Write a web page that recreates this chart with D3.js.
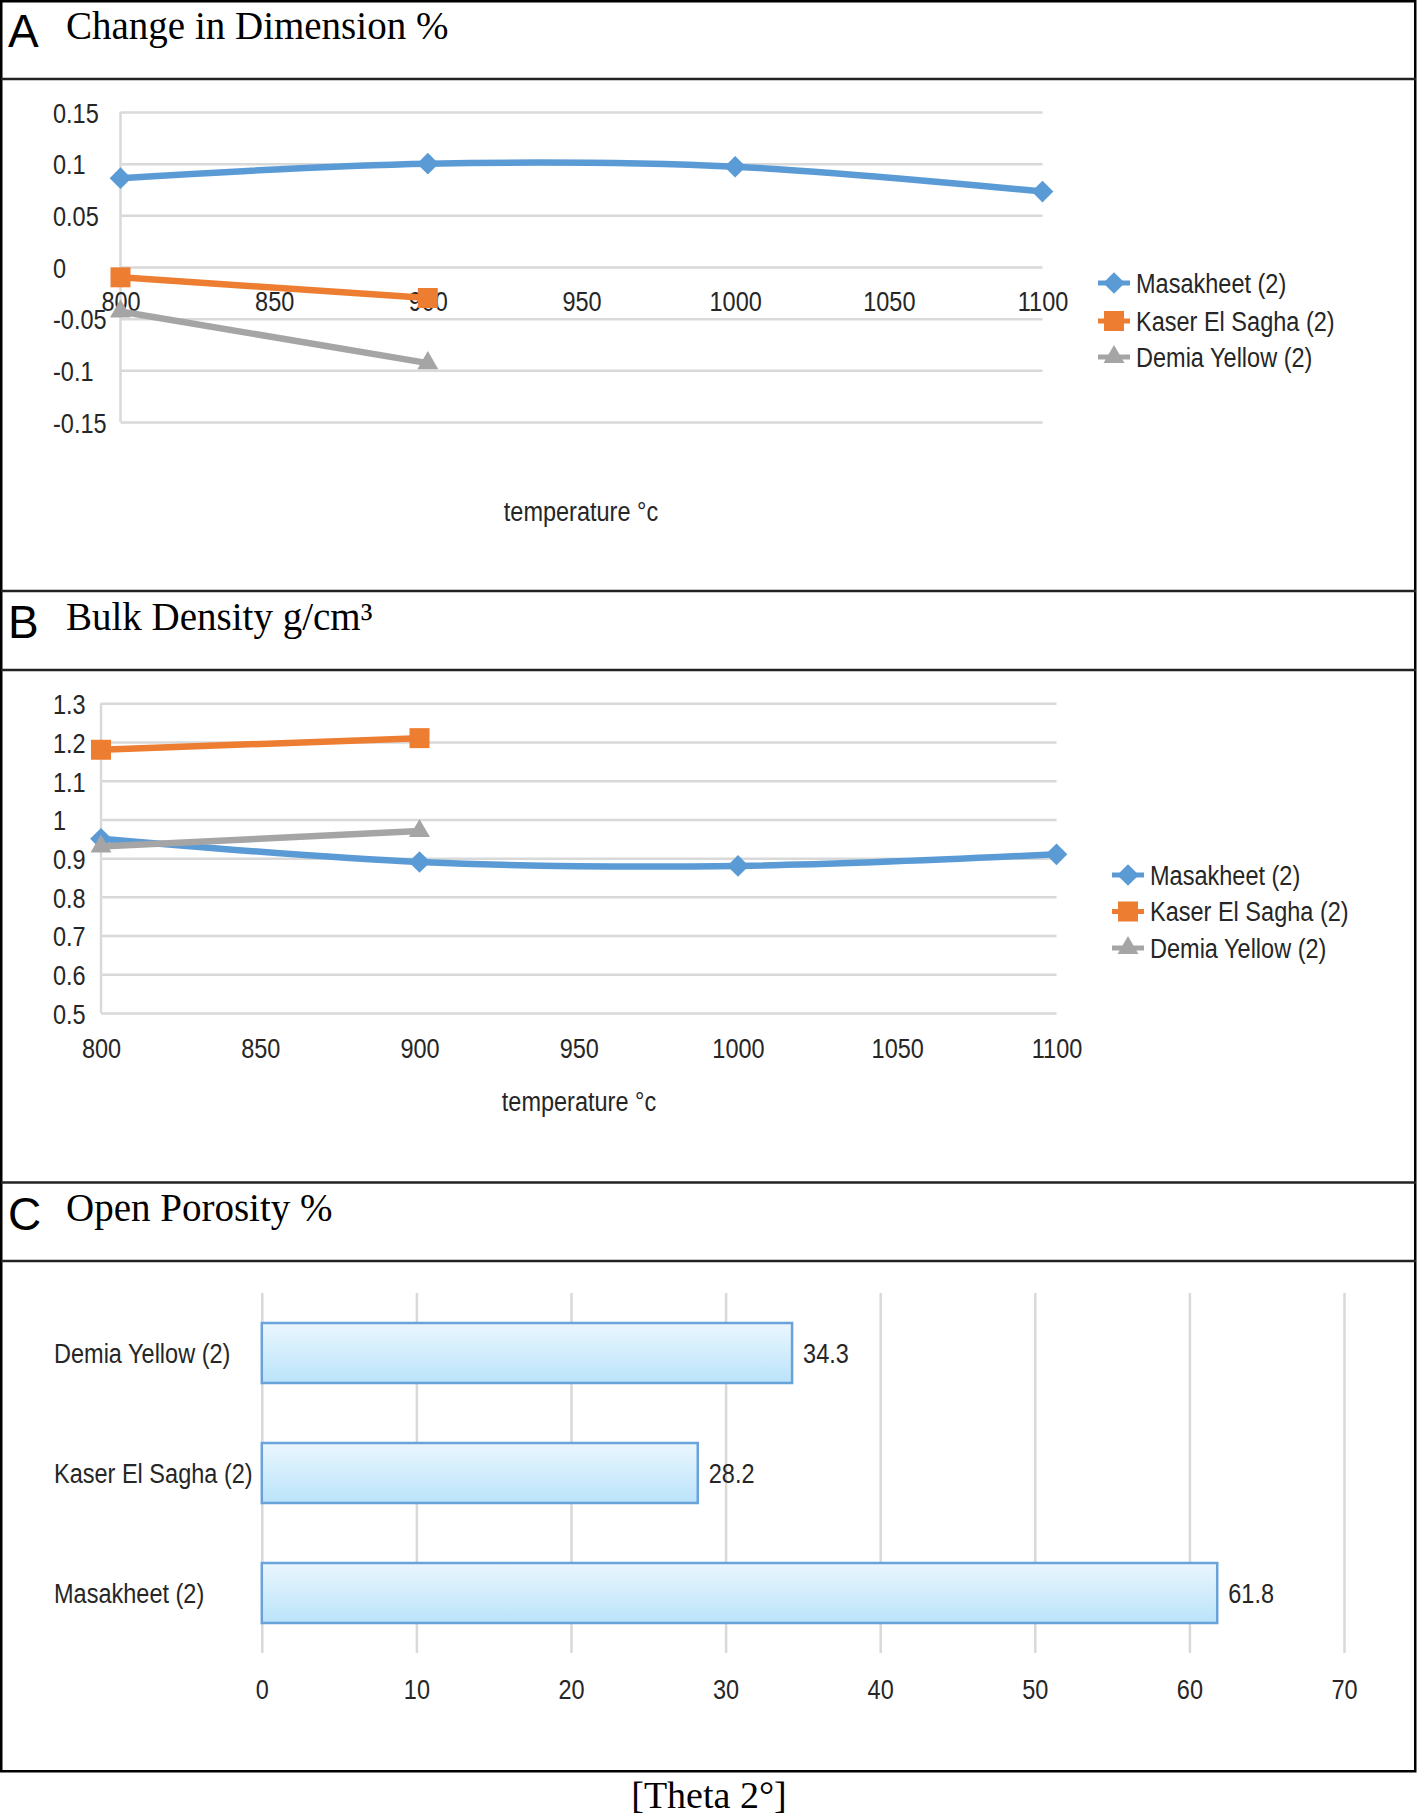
<!DOCTYPE html>
<html lang="en">
<head>
  <meta charset="UTF-8">
  <title>Change in Dimension, Bulk Density, Open Porosity</title>
  <script src="https://d3js.org/d3.v7.min.js"></script>
  <style>
    body { margin: 0; background: #fff; }
  </style>
</head>
<body>

<script>
  // The values
  const temps = [800, 900, 1000, 1100];
  const seriesNames = ["Masakheet (2)", "Kaser El Sagha (2)", "Demia Yellow (2)"];
  const seriesColors = ["#5b9bd5", "#ed7d31", "#a5a5a5"];

  // A - change in dimension %
  const dimMasakheet = [0.086, 0.100, 0.097, 0.073];
  const dimKaser = [-0.010, -0.030];
  const dimDemia = [-0.043, -0.093];

  // B - bulk density g/cm3
  const densMasakheet = [0.95, 0.89, 0.88, 0.91];
  const densKaser = [1.18, 1.21];
  const densDemia = [0.93, 0.97];

  // C - open porosity %
  const porosityCats = ["Demia Yellow (2)", "Kaser El Sagha (2)", "Masakheet (2)"];
  const porosityValues = [34.3, 28.2, 61.8];

  // tick labels
  const tempTicks = [800, 850, 900, 950, 1000, 1050, 1100];
  const dimTicks = ["0.15", "0.1", "0.05", "0", "-0.05", "-0.1", "-0.15"];
  const densTicks = ["1.3", "1.2", "1.1", "1", "0.9", "0.8", "0.7", "0.6", "0.5"];
  const porosityTicks = [0, 10, 20, 30, 40, 50, 60, 70];

  const W = 1418, H = 1816;
  const sans = "'Liberation Sans', Arial, sans-serif";
  const serif = "'Liberation Serif', 'Times New Roman', serif";
  const labelSize = 28;
  const squeeze = 0.84;   // narrow look of the chart labels
  const textColor = "#262626";
  const gridColor = "#d9d9d9";

  const svg = d3.select("body")
    .append("svg")
    .attr("width", W)
    .attr("height", H);

  // frame + header rules
  svg.append("rect")
    .attr("x", 1.25).attr("y", 1.25)
    .attr("width", 1414).attr("height", 1770)
    .attr("fill", "none")
    .attr("stroke", "#000")
    .attr("stroke-width", 2.5);

  [79, 591, 670, 1182.5, 1261].forEach(y => {
    svg.append("line")
      .attr("x1", 1).attr("x2", 1416)
      .attr("y1", y).attr("y2", y)
      .attr("stroke", "#222")
      .attr("stroke-width", 2.5);
  });

  // panel headers
  const headers = [
    { top: 0, letter: "A", title: "Change in Dimension %" },
    { top: 591, letter: "B", title: "Bulk Density g/cm\u00B3" },
    { top: 1182.5, letter: "C", title: "Open Porosity %" }
  ];
  headers.forEach(h => {
    svg.append("text")
      .attr("x", 8).attr("y", h.top + 47)
      .style("font-family", sans)
      .style("font-size", "46px")
      .text(h.letter);
    svg.append("text")
      .attr("x", 66).attr("y", h.top + 38.5)
      .style("font-family", serif)
      .style("font-size", "39px")
      .text(h.title);
  });

  // caption
  svg.append("text")
    .attr("x", 709).attr("y", 1808)
    .attr("text-anchor", "middle")
    .style("font-family", serif)
    .style("font-size", "38px")
    .text("[Theta 2\u00B0]");

  // label style: Arial metrics squeezed horizontally
  function labelStyle(sel) {
    sel.style("font-family", sans)
      .style("font-size", labelSize + "px")
      .attr("fill", textColor);
    sel.each(function() {
      const t = d3.select(this);
      const x = +t.attr("x") || 0, y = +t.attr("y") || 0;
      t.attr("x", 0).attr("y", 0)
        .attr("transform", "translate(" + x + "," + y + ") scale(" + squeeze + ",1)");
    });
    return sel;
  }

  const markers = [
    d3.symbol().type(d3.symbolDiamond2).size(300),
    d3.symbol().type(d3.symbolSquare).size(400),
    d3.symbol().type(d3.symbolTriangle).size(190)
  ];

  // line chart panel
  function linePanel(cfg) {
    const g = svg.append("g");
    const x = d3.scaleLinear().domain([800, 1100]).range(cfg.xRange);
    const y = d3.scaleLinear().domain(cfg.yDomain).range(cfg.yRange);

    // horizontal gridlines
    g.append("g")
      .attr("transform", "translate(" + cfg.xRange[0] + ",0)")
      .call(d3.axisLeft(y).tickValues(cfg.yTicks.map(Number))
        .tickSize(-(cfg.xRange[1] - cfg.xRange[0])).tickFormat(""))
      .call(a => a.select(".domain").remove())
      .call(a => a.selectAll("line").attr("stroke", gridColor).attr("stroke-width", 2.5));

    // light vertical axis line
    g.append("line")
      .attr("x1", cfg.xRange[0]).attr("x2", cfg.xRange[0])
      .attr("y1", cfg.yRange[1]).attr("y2", cfg.yRange[0])
      .attr("stroke", gridColor).attr("stroke-width", 2.5);

    // y labels, left aligned
    g.selectAll(".ylab")
      .data(cfg.yTicks)
      .enter().append("text")
      .attr("class", "ylab")
      .attr("x", 53)
      .attr("y", d => y(+d) + 1)
      .attr("dy", "0.35em")
      .text(d => d)
      .call(labelStyle);

    // x labels
    g.append("g")
      .attr("transform", "translate(0," + cfg.xLabelY + ")")
      .call(d3.axisBottom(x).tickValues(tempTicks).tickSize(0).tickFormat(d => d))
      .call(a => a.select(".domain").remove())
      .call(a => a.selectAll("text").attr("y", 0).attr("dy", "0.35em").call(labelStyle));

    // axis title
    g.append("text")
      .attr("x", cfg.titleX).attr("y", cfg.titleY)
      .attr("text-anchor", "middle")
      .attr("dy", "0.35em")
      .text("temperature \u00B0c")
      .call(labelStyle);

    const line = d3.line()
      .x((d, i) => x(temps[i]))
      .y(d => y(d))
      .curve(d3.curveCatmullRom);

    cfg.series.forEach((vals, si) => {
      g.append("path")
        .attr("d", line(vals))
        .attr("fill", "none")
        .attr("stroke", seriesColors[si])
        .attr("stroke-width", 6.5)
        .attr("stroke-linejoin", "round");
      g.selectAll(".m" + si)
        .data(vals)
        .enter().append("path")
        .attr("class", "m" + si)
        .attr("transform", (d, i) => "translate(" + x(temps[i]) + "," + y(d) + ")")
        .attr("d", markers[si]())
        .attr("fill", seriesColors[si]);
    });

    // legend
    const leg = g.selectAll(".leg")
      .data(seriesNames)
      .enter().append("g")
      .attr("class", "leg")
      .attr("transform", (d, i) => "translate(" + cfg.legX + "," + cfg.legY[i] + ")");
    leg.append("line")
      .attr("x1", -16).attr("x2", 16)
      .attr("stroke", (d, i) => seriesColors[i])
      .attr("stroke-width", 5);
    leg.append("path")
      .attr("d", (d, i) => markers[i]())
      .attr("fill", (d, i) => seriesColors[i]);
    leg.append("text")
      .attr("x", 22)
      .attr("dy", "0.35em")
      .text(d => d)
      .call(labelStyle);
  }

  linePanel({
    xRange: [120.5, 1042.5],
    yDomain: [-0.15, 0.15],
    yRange: [422, 112],
    yTicks: dimTicks,
    xLabelY: 301,
    titleX: 581, titleY: 511,
    series: [dimMasakheet, dimKaser, dimDemia],
    legX: 1114, legY: [283, 321, 357]
  });

  linePanel({
    xRange: [101, 1056.5],
    yDomain: [0.5, 1.3],
    yRange: [1013, 703.3],
    yTicks: densTicks,
    xLabelY: 1048.5,
    titleX: 579, titleY: 1101,
    series: [densMasakheet, densKaser, densDemia],
    legX: 1128, legY: [875, 911.5, 948]
  });

  // C - horizontal bar chart
  const gc = svg.append("g");
  const xc = d3.scaleLinear().domain([0, 70]).range([261.8, 1344]);
  const yc = d3.scaleBand().domain(porosityCats).range([1293, 1653])
    .paddingInner(0.5).paddingOuter(0.25);

  gc.append("g")
    .attr("transform", "translate(0,1293)")
    .call(d3.axisBottom(xc).tickValues(porosityTicks).tickSize(360).tickFormat(""))
    .call(a => a.select(".domain").remove())
    .call(a => a.selectAll("line").attr("stroke", gridColor).attr("stroke-width", 2.5));

  gc.append("g")
    .attr("transform", "translate(0,1689)")
    .call(d3.axisBottom(xc).tickValues(porosityTicks).tickSize(0).tickFormat(d => d))
    .call(a => a.select(".domain").remove())
    .call(a => a.selectAll("text").attr("y", 0).attr("dy", "0.35em").call(labelStyle));

  const grad = svg.append("defs").append("linearGradient")
    .attr("id", "barGrad")
    .attr("x1", 0).attr("y1", 0).attr("x2", 0).attr("y2", 1);
  grad.append("stop").attr("offset", "0%").attr("stop-color", "#eaf6fe");
  grad.append("stop").attr("offset", "100%").attr("stop-color", "#bae3fa");

  gc.selectAll(".bar")
    .data(porosityCats)
    .enter().append("rect")
    .attr("class", "bar")
    .attr("x", xc(0))
    .attr("y", d => yc(d))
    .attr("width", (d, i) => xc(porosityValues[i]) - xc(0))
    .attr("height", yc.bandwidth())
    .attr("fill", "url(#barGrad)")
    .attr("stroke", "#6aa3da")
    .attr("stroke-width", 2.5);

  gc.selectAll(".val")
    .data(porosityCats)
    .enter().append("text")
    .attr("class", "val")
    .attr("x", (d, i) => xc(porosityValues[i]) + 11)
    .attr("y", d => yc(d) + yc.bandwidth() / 2)
    .attr("dy", "0.35em")
    .text((d, i) => porosityValues[i])
    .call(labelStyle);

  gc.selectAll(".cat")
    .data(porosityCats)
    .enter().append("text")
    .attr("class", "cat")
    .attr("x", 54)
    .attr("y", d => yc(d) + yc.bandwidth() / 2)
    .attr("dy", "0.35em")
    .text(d => d)
    .call(labelStyle);
</script>

</body>
</html>
